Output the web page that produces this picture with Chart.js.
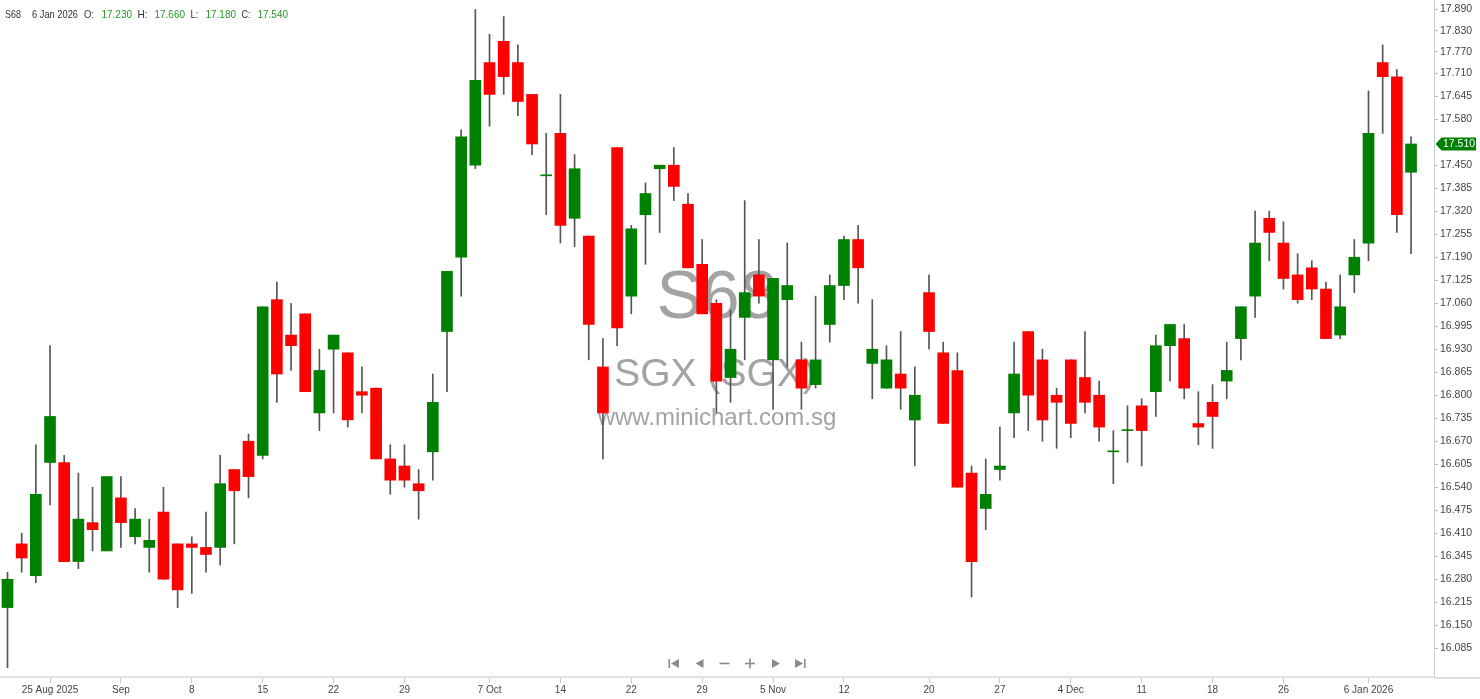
<!DOCTYPE html>
<html><head><meta charset="utf-8">
<script src="https://cdn.jsdelivr.net/npm/chart.js@4/dist/chart.umd.min.js"></script>
<style>html,body{margin:0;padding:0;background:#fff;overflow:hidden}#wrap{width:1480px;height:699px;position:relative}</style>
</head><body><div id="wrap"><canvas id="c"></canvas></div>
<script>
const symbol = 'S68';
const exchangeText = 'SGX (SGX)';
const siteText = 'www.minichart.com.sg';

const dates = [
'20 Aug 2025','21 Aug 2025','22 Aug 2025','25 Aug 2025','26 Aug 2025','27 Aug 2025','28 Aug 2025','29 Aug 2025',
'1 Sep 2025','2 Sep 2025','3 Sep 2025','4 Sep 2025','5 Sep 2025','8 Sep 2025','9 Sep 2025','10 Sep 2025','11 Sep 2025','12 Sep 2025',
'15 Sep 2025','16 Sep 2025','17 Sep 2025','18 Sep 2025','19 Sep 2025','22 Sep 2025','23 Sep 2025','24 Sep 2025','25 Sep 2025','26 Sep 2025',
'29 Sep 2025','30 Sep 2025','1 Oct 2025','2 Oct 2025','3 Oct 2025','6 Oct 2025','7 Oct 2025','8 Oct 2025','9 Oct 2025','10 Oct 2025',
'13 Oct 2025','14 Oct 2025','15 Oct 2025','16 Oct 2025','17 Oct 2025','21 Oct 2025','22 Oct 2025','23 Oct 2025','24 Oct 2025',
'27 Oct 2025','28 Oct 2025','29 Oct 2025','30 Oct 2025','31 Oct 2025','3 Nov 2025','4 Nov 2025','5 Nov 2025','6 Nov 2025','7 Nov 2025',
'10 Nov 2025','11 Nov 2025','12 Nov 2025','13 Nov 2025','14 Nov 2025','17 Nov 2025','18 Nov 2025','19 Nov 2025','20 Nov 2025','21 Nov 2025',
'24 Nov 2025','25 Nov 2025','26 Nov 2025','27 Nov 2025','28 Nov 2025','1 Dec 2025','2 Dec 2025','3 Dec 2025','4 Dec 2025','5 Dec 2025',
'8 Dec 2025','9 Dec 2025','10 Dec 2025','11 Dec 2025','12 Dec 2025','15 Dec 2025','16 Dec 2025','17 Dec 2025','18 Dec 2025','19 Dec 2025',
'22 Dec 2025','23 Dec 2025','24 Dec 2025','26 Dec 2025','29 Dec 2025','30 Dec 2025','31 Dec 2025','2 Jan 2026','5 Jan 2026','6 Jan 2026',
'7 Jan 2026','8 Jan 2026','9 Jan 2026'];

const opens = [16.20,16.38,16.29,16.61,16.61,16.33,16.44,16.36,16.51,16.40,
16.37,16.47,16.38,16.38,16.37,16.37,16.59,16.67,16.63,17.07,
16.97,17.03,16.75,16.93,16.92,16.81,16.82,16.62,16.60,16.55,
16.64,16.98,17.19,17.45,17.74,17.80,17.74,17.65,17.42,17.54,
17.30,17.25,16.88,17.50,17.08,17.31,17.44,17.45,17.34,17.17,
17.06,16.85,17.02,17.14,16.90,17.07,16.90,16.83,17.00,17.11,
17.24,16.89,16.82,16.86,16.73,17.09,16.92,16.87,16.58,16.48,
16.59,16.75,16.98,16.90,16.80,16.90,16.85,16.80,16.64,16.70,
16.77,16.81,16.94,16.96,16.72,16.78,16.84,16.96,17.08,17.30,
17.23,17.14,17.16,17.10,16.97,17.14,17.23,17.74,17.70,17.43];

const highs = [16.30,16.41,16.66,16.94,16.63,16.58,16.54,16.57,16.57,16.48,
16.45,16.54,16.38,16.40,16.47,16.63,16.59,16.69,17.05,17.12,
17.06,17.03,16.93,16.97,16.92,16.88,16.82,16.66,16.66,16.59,
16.86,17.15,17.55,17.89,17.82,17.87,17.79,17.65,17.54,17.65,
17.48,17.25,16.96,17.50,17.28,17.40,17.45,17.50,17.37,17.24,
17.07,17.04,17.35,17.24,17.13,17.23,16.95,17.08,17.14,17.25,
17.28,17.07,16.94,16.98,16.88,17.14,16.95,16.92,16.60,16.62,
16.71,16.95,16.98,16.93,16.82,16.90,16.98,16.84,16.70,16.77,
16.79,16.97,17.00,17.00,16.81,16.83,16.95,17.05,17.32,17.32,
17.29,17.20,17.18,17.12,17.14,17.24,17.66,17.79,17.72,17.53];

const lows = [16.03,16.30,16.27,16.49,16.33,16.31,16.36,16.36,16.37,16.38,
16.30,16.28,16.20,16.24,16.30,16.32,16.38,16.51,16.62,16.78,
16.87,16.81,16.70,16.75,16.71,16.75,16.62,16.52,16.54,16.45,
16.56,16.81,17.08,17.44,17.56,17.65,17.59,17.48,17.31,17.23,
17.22,16.90,16.62,16.94,17.03,17.17,17.26,17.35,17.16,17.03,
16.75,16.78,16.90,17.06,16.76,16.88,16.76,16.82,16.95,17.07,
17.06,16.79,16.82,16.76,16.60,16.93,16.72,16.54,16.23,16.42,
16.56,16.68,16.70,16.67,16.65,16.68,16.75,16.67,16.55,16.61,
16.60,16.74,16.84,16.79,16.66,16.65,16.79,16.90,17.02,17.18,
17.10,17.06,17.07,16.96,16.96,17.09,17.18,17.54,17.26,17.20];

const closes = [16.28,16.34,16.52,16.74,16.33,16.45,16.42,16.57,16.44,16.45,
16.39,16.28,16.25,16.37,16.35,16.55,16.53,16.57,17.05,16.86,
16.94,16.81,16.87,16.97,16.73,16.80,16.62,16.56,16.56,16.53,
16.78,17.15,17.53,17.69,17.65,17.70,17.63,17.51,17.42,17.28,
17.44,17.00,16.75,16.99,17.27,17.37,17.45,17.39,17.16,17.03,
16.84,16.93,17.09,17.08,17.13,17.11,16.82,16.90,17.11,17.24,
17.16,16.93,16.90,16.82,16.80,16.98,16.72,16.54,16.33,16.52,
16.60,16.86,16.80,16.73,16.78,16.72,16.78,16.71,16.64,16.70,
16.70,16.94,17.00,16.82,16.71,16.74,16.87,17.05,17.23,17.26,
17.13,17.07,17.10,16.96,17.05,17.19,17.54,17.70,17.31,17.51];

const xTickIdx = [3,8,13,18,23,28,34,39,44,49,54,59,65,70,75,80,85,90,96];
const xTickLabels = ['25 Aug 2025','Sep','8','15','22','29','7 Oct','14','22','29','5 Nov','12','20','27','4 Dec','11','18','26','6 Jan 2026'];
const yTickValues = [17.890,17.830,17.770,17.710,17.645,17.580,17.450,17.385,17.320,17.255,17.190,17.125,17.060,16.995,16.930,16.865,16.800,16.735,16.670,16.605,16.540,16.475,16.410,16.345,16.280,16.215,16.150,16.085];
const headerIndex = 96;

const FONT = "'Liberation Sans', Arial, sans-serif";
const UP = '#008000', DOWN = '#ff0000';

const wickData = dates.map((d, i) => ({x: i, y: [lows[i], highs[i]]}));
const bodyData = dates.map((d, i) => ({x: i, y: [opens[i], closes[i]]}));
const bodyColors = dates.map((d, i) => closes[i] >= opens[i] ? UP : DOWN);

const deco = {
  id: 'deco',
  beforeDatasetsDraw(chart) {
    const ctx = chart.ctx;
    ctx.save();
    ctx.fillStyle = '#a3a3a3';
    ctx.textAlign = 'center';
    ctx.textBaseline = 'alphabetic';
    ctx.font = '68px ' + FONT;
    ctx.fillText(symbol, 717, 318);
    ctx.font = '39px ' + FONT;
    ctx.fillText(exchangeText, 715, 386);
    ctx.font = '24px ' + FONT;
    ctx.fillText(siteText, 717, 425);
    ctx.restore();
  },
  afterDraw(chart) {
    const ctx = chart.ctx;
    const ca = chart.chartArea;
    const ys = chart.scales.y;
    ctx.save();
    // extend x-axis line under the price axis
    ctx.strokeStyle = '#e0e0e0';
    ctx.lineWidth = 2;
    ctx.beginPath();
    ctx.moveTo(ca.right, ca.bottom + 1);
    ctx.lineTo(chart.width, ca.bottom + 1);
    ctx.stroke();

    // header
    const hi = headerIndex;
    const green = '#229922', dark = '#333333';
    const parts = [
      [symbol, 5, 16, dark], [dates[hi], 32, 46, dark],
      ['O:', 84, 10, dark], [opens[hi].toFixed(3), 101.5, 30.5, green],
      ['H:', 137.5, 10, dark], [highs[hi].toFixed(3), 154.5, 30.5, green],
      ['L:', 190.5, 8, dark], [lows[hi].toFixed(3), 205.5, 30.5, green],
      ['C:', 241.5, 9, dark], [closes[hi].toFixed(3), 257.5, 30.5, green]
    ];
    ctx.font = '10.5px ' + FONT;
    ctx.textBaseline = 'middle';
    ctx.textAlign = 'left';
    parts.forEach(p => { ctx.fillStyle = p[3]; ctx.fillText(p[0], p[1], 15.5, p[2]); });

    // last price tag
    const last = closes[closes.length - 1];
    const py = ys.getPixelForValue(last);
    const x0 = ca.right + 1.5;
    ctx.fillStyle = '#008000';
    ctx.beginPath();
    ctx.moveTo(x0, py);
    ctx.lineTo(x0 + 6, py - 6.5);
    ctx.lineTo(1476, py - 6.5);
    ctx.lineTo(1476, py + 6.5);
    ctx.lineTo(x0 + 6, py + 6.5);
    ctx.closePath();
    ctx.fill();
    ctx.fillStyle = '#ffffff';
    ctx.font = '10.5px ' + FONT;
    ctx.fillText(last.toFixed(3), x0 + 7.5, py + 0.5);

    // navigation icons
    const ny = 663.5;
    ctx.fillStyle = '#8a8a8a';
    const triL = (x) => { ctx.beginPath(); ctx.moveTo(x - 4, ny); ctx.lineTo(x + 4, ny - 4.5); ctx.lineTo(x + 4, ny + 4.5); ctx.closePath(); ctx.fill(); };
    const triR = (x) => { ctx.beginPath(); ctx.moveTo(x + 4, ny); ctx.lineTo(x - 4, ny - 4.5); ctx.lineTo(x - 4, ny + 4.5); ctx.closePath(); ctx.fill(); };
    ctx.fillRect(668.5, ny - 4.5, 1.6, 9); triL(675);
    triL(699.5);
    ctx.fillRect(719.5, ny - 0.8, 10, 1.6);
    ctx.fillRect(745, ny - 0.8, 10, 1.6); ctx.fillRect(749.2, ny - 5, 1.6, 10);
    triR(776);
    triR(799); ctx.fillRect(804, ny - 4.5, 1.6, 9);
    ctx.restore();
  }
};

new Chart(document.getElementById('c'), {
  type: 'bar',
  data: {
    datasets: [
      { label: 'wick', data: wickData, backgroundColor: '#555555', barThickness: 1, grouped: false, order: 2 },
      { label: 'body', data: bodyData, backgroundColor: bodyColors, barThickness: 11, minBarLength: 1, grouped: false, order: 1 }
    ]
  },
  options: {
    responsive: true,
    maintainAspectRatio: false,
    animation: false,
    layout: { padding: 0 },
    plugins: { legend: { display: false }, tooltip: { enabled: false } },
    scales: {
      x: {
        type: 'linear', position: 'bottom', offset: false,
        min: -0.529, max: 100.62,
        grid: { display: true, offset: false, drawOnChartArea: false, drawTicks: true, tickLength: 6, color: '#c8c8c8' },
        border: { display: true, color: '#e0e0e0', width: 2 },
        ticks: { autoSkip: false, maxRotation: 0, padding: 1, color: '#444', font: { family: FONT, size: 10 },
          callback: (v) => { const k = xTickIdx.indexOf(v); return k >= 0 ? xTickLabels[k] : ''; } },
        afterBuildTicks: (s) => { s.ticks = xTickIdx.map(v => ({ value: v })); },
        afterFit: (s) => { s.height = 22; s.paddingLeft = 0; s.paddingRight = 0; }
      },
      y: {
        type: 'linear', position: 'right',
        min: 16.0038, max: 17.9168,
        grid: { display: true, offset: false, drawOnChartArea: false, drawTicks: true, tickLength: 4, color: '#bbbbbb' },
        border: { display: true, color: '#d0d0d0', width: 1 },
        ticks: { padding: 2, color: '#444', font: { family: FONT, size: 10.5 }, callback: (v) => Number(v).toFixed(3) },
        afterBuildTicks: (s) => { s.ticks = yTickValues.map(v => ({ value: v })); },
        afterFit: (s) => { s.width = 46; s.paddingTop = 0; s.paddingBottom = 0; }
      }
    }
  },
  plugins: [deco]
});
</script>
</body></html>
